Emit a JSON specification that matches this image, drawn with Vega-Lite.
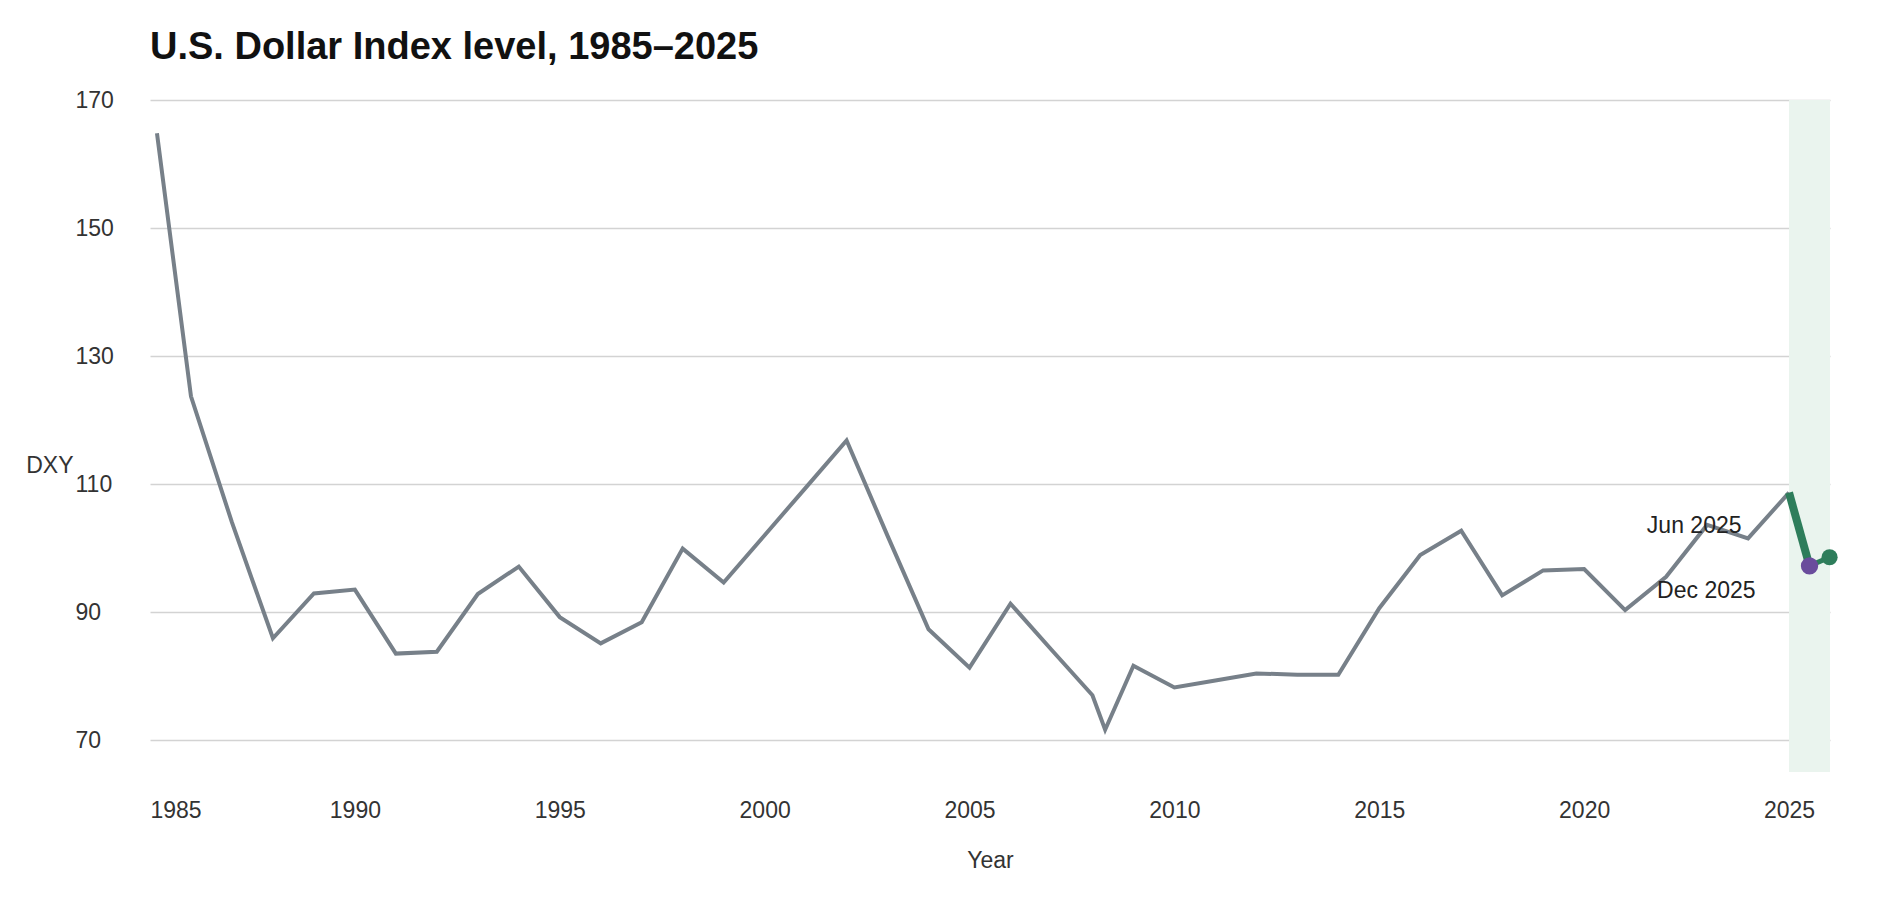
{
  "$schema": "https://vega.github.io/schema/vega-lite/v6.json",
  "width": 1680,
  "height": 672,
  "autosize": {"type": "none"},
  "padding": {"left": 150, "top": 100, "right": 70, "bottom": 128},
  "background": "white",
  "config": {
    "font": "Liberation Sans",
    "view": {"stroke": null},
    "axis": {
      "labelFont": "Liberation Sans",
      "titleFont": "Liberation Sans",
      "labelFontSize": 23,
      "titleFontSize": 23,
      "labelColor": "#333333",
      "titleColor": "#333333",
      "titleFontWeight": "normal",
      "domain": false,
      "ticks": false
    }
  },
  "title": {
    "text": "U.S. Dollar Index level, 1985–2025",
    "anchor": "start",
    "frame": "group",
    "font": "Liberation Sans",
    "fontSize": 38,
    "fontWeight": "bold",
    "color": "#111111",
    "baseline": "alphabetic",
    "offset": -8
  },
  "datasets": {
    "dxy": [
      {"Year": 1985.17, "DXY": 164.8, "series": "history"},
      {"Year": 1986, "DXY": 123.7, "series": "history"},
      {"Year": 1987, "DXY": 104.0, "series": "history"},
      {"Year": 1988, "DXY": 85.9, "series": "history"},
      {"Year": 1989, "DXY": 92.9, "series": "history"},
      {"Year": 1990, "DXY": 93.5, "series": "history"},
      {"Year": 1991, "DXY": 83.5, "series": "history"},
      {"Year": 1992, "DXY": 83.8, "series": "history"},
      {"Year": 1993, "DXY": 92.8, "series": "history"},
      {"Year": 1994, "DXY": 97.1, "series": "history"},
      {"Year": 1995, "DXY": 89.2, "series": "history"},
      {"Year": 1996, "DXY": 85.1, "series": "history"},
      {"Year": 1997, "DXY": 88.4, "series": "history"},
      {"Year": 1998, "DXY": 99.9, "series": "history"},
      {"Year": 1999, "DXY": 94.6, "series": "history"},
      {"Year": 2000, "DXY": 102.0, "series": "history"},
      {"Year": 2001, "DXY": 109.4, "series": "history"},
      {"Year": 2002, "DXY": 116.8, "series": "history"},
      {"Year": 2003, "DXY": 101.9, "series": "history"},
      {"Year": 2004, "DXY": 87.3, "series": "history"},
      {"Year": 2005, "DXY": 81.3, "series": "history"},
      {"Year": 2006, "DXY": 91.3, "series": "history"},
      {"Year": 2007, "DXY": 84.1, "series": "history"},
      {"Year": 2008, "DXY": 77.0, "series": "history"},
      {"Year": 2008.31, "DXY": 71.6, "series": "history"},
      {"Year": 2009, "DXY": 81.6, "series": "history"},
      {"Year": 2010, "DXY": 78.2, "series": "history"},
      {"Year": 2011, "DXY": 79.3, "series": "history"},
      {"Year": 2012, "DXY": 80.4, "series": "history"},
      {"Year": 2013, "DXY": 80.2, "series": "history"},
      {"Year": 2014, "DXY": 80.2, "series": "history"},
      {"Year": 2015, "DXY": 90.6, "series": "history"},
      {"Year": 2016, "DXY": 98.9, "series": "history"},
      {"Year": 2017, "DXY": 102.7, "series": "history"},
      {"Year": 2018, "DXY": 92.6, "series": "history"},
      {"Year": 2019, "DXY": 96.5, "series": "history"},
      {"Year": 2020, "DXY": 96.7, "series": "history"},
      {"Year": 2021, "DXY": 90.3, "series": "history"},
      {"Year": 2022, "DXY": 95.5, "series": "history"},
      {"Year": 2023, "DXY": 103.6, "series": "history"},
      {"Year": 2024, "DXY": 101.5, "series": "history"},
      {"Year": 2025, "DXY": 108.65, "series": "history"},
      {"Year": 2025, "DXY": 108.65, "series": "2025"},
      {"Year": 2025.5, "DXY": 97.2, "series": "2025", "label": "Jun 2025"},
      {"Year": 2025.99, "DXY": 98.55, "series": "2025", "label": "Dec 2025"}
    ],
    "band": [
      {"start": 2025, "end": 2026}
    ]
  },
  "encoding": {
    "x": {
      "field": "Year",
      "type": "quantitative",
      "scale": {"domain": [1985, 2026], "nice": false, "zero": false},
      "axis": {
        "title": "Year",
        "values": [1985, 1990, 1995, 2000, 2005, 2010, 2015, 2020, 2025],
        "format": "d",
        "grid": false,
        "labelPadding": 27,
        "titlePadding": 27
      }
    },
    "y": {
      "field": "DXY",
      "type": "quantitative",
      "scale": {"domain": [65, 170], "nice": false, "zero": false},
      "axis": {
        "title": "DXY",
        "values": [70, 90, 110, 130, 150, 170],
        "grid": true,
        "gridColor": "#d3d3d3",
        "gridWidth": 1.5,
        "labelAlign": "left",
        "labelBaseline": "middle",
        "labelPadding": 75,
        "titleAngle": 0,
        "titleAlign": "right",
        "titleBaseline": "alphabetic",
        "titleX": -77,
        "titleY": 372
      }
    }
  },
  "layer": [
    {
      "data": {"name": "band"},
      "mark": {"type": "rect", "color": "#eaf4ee"},
      "encoding": {
        "x": {"field": "start", "type": "quantitative"},
        "x2": {"field": "end"},
        "y": null
      }
    },
    {
      "data": {"name": "dxy"},
      "transform": [{"filter": "datum.series == 'history'"}],
      "mark": {"type": "line", "color": "#778089", "strokeWidth": 4, "strokeJoin": "miter"}
    },
    {
      "data": {"name": "dxy"},
      "transform": [{"filter": "datum.series == '2025' && datum.Year <= 2025.5"}],
      "mark": {"type": "line", "color": "#2e7d5b", "strokeWidth": 8}
    },
    {
      "data": {"name": "dxy"},
      "transform": [{"filter": "datum.series == '2025' && datum.Year >= 2025.5"}],
      "mark": {"type": "line", "color": "#2e7d5b", "strokeWidth": 5}
    },
    {
      "data": {"name": "dxy"},
      "transform": [{"filter": "datum.label == 'Dec 2025'"}],
      "mark": {"type": "point", "filled": true, "opacity": 1, "color": "#2e7d5b", "size": 260}
    },
    {
      "data": {"name": "dxy"},
      "transform": [{"filter": "datum.label == 'Jun 2025'"}],
      "mark": {"type": "point", "filled": true, "opacity": 1, "color": "#6a4c9c", "size": 300}
    },
    {
      "data": {"name": "dxy"},
      "transform": [{"filter": "datum.label == 'Jun 2025'"}],
      "mark": {"type": "text", "align": "right", "baseline": "alphabetic", "dx": -68, "dy": -33, "fontSize": 23, "color": "#222222", "font": "Liberation Sans"},
      "encoding": {"text": {"field": "label"}}
    },
    {
      "data": {"name": "dxy"},
      "transform": [{"filter": "datum.label == 'Dec 2025'"}],
      "mark": {"type": "text", "align": "right", "baseline": "alphabetic", "dx": -74, "dy": 41, "fontSize": 23, "color": "#222222", "font": "Liberation Sans"},
      "encoding": {"text": {"field": "label"}}
    }
  ]
}
